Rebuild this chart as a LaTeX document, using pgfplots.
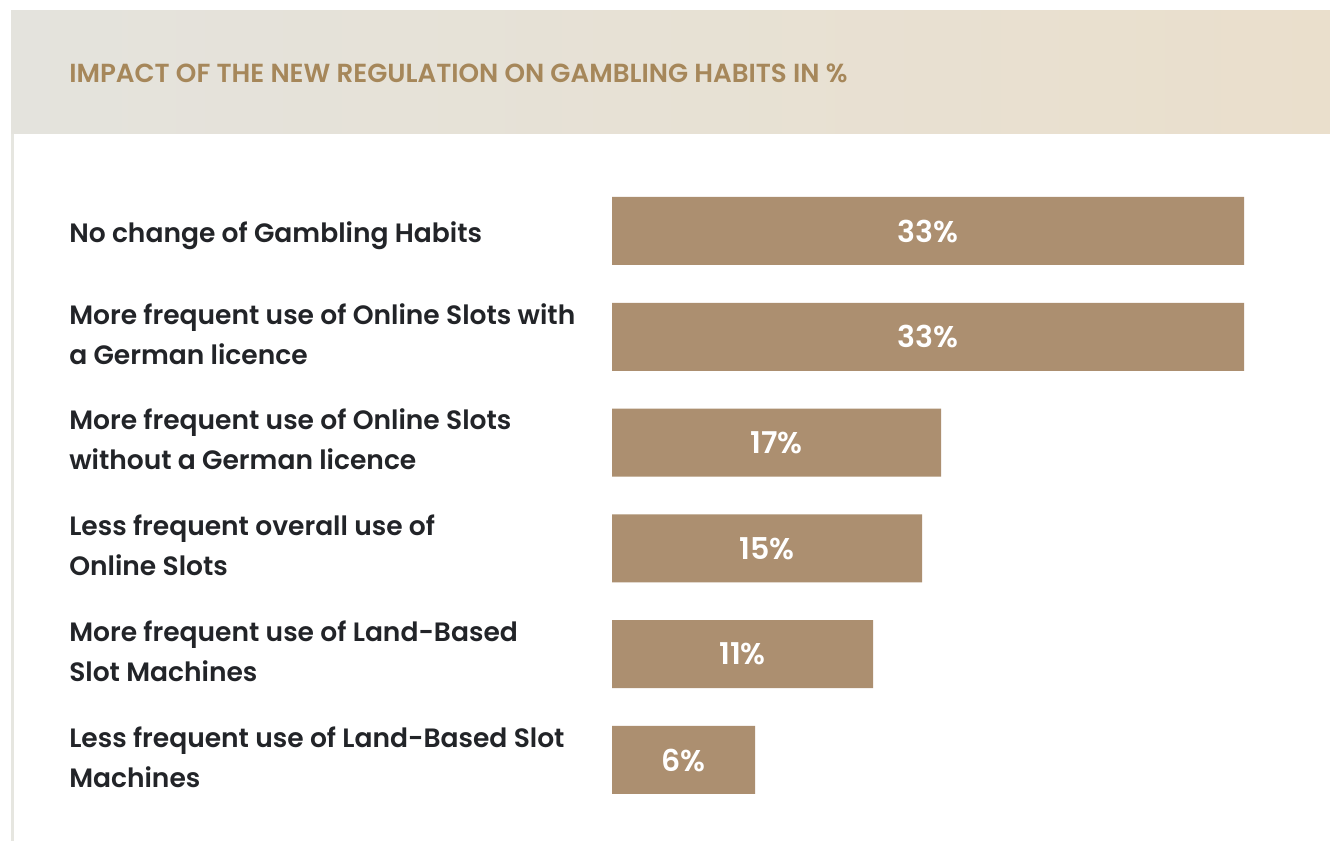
\documentclass[border=0pt]{standalone}
\usepackage{fontspec}
\setmainfont{Poppins}[BoldFont={Poppins SemiBold}]
\usepackage{pgfplots}
\usepackage{pgfplotstable}
\pgfplotsset{compat=1.18}
\definecolor{barc}{HTML}{AC8F70}
\definecolor{titlec}{HTML}{A6875A}
\definecolor{hdrL}{HTML}{E4E3DD}
\definecolor{hdrR}{HTML}{EADFCC}
\definecolor{bord}{HTML}{E6E6E0}
\definecolor{txt}{HTML}{222428}
\pgfplotstableread{
y len lab
5 33.00 33\%
4 33.00 33\%
3 17.18 17\%
2 16.19 15\%
1 13.63 11\%
0 7.47 6\%
}\data
\begin{document}
\begin{tikzpicture}
\begin{scope}[x=0.75pt,y=0.75pt]
\fill[white] (0,0) rectangle (1330,841);
\shade[left color=hdrL,right color=hdrR] (11,830) rectangle (1330,707);
\fill[bord] (11,707) rectangle (13.5,0);
\node[anchor=west,inner sep=0pt,text=titlec,font=\fontsize{19.6}{22}\selectfont\bfseries] at (69,768) {IMPACT OF THE NEW REGULATION ON GAMBLING HABITS IN \%};
\end{scope}
\begin{axis}[
  at={(459pt,21.075pt)}, anchor=south west,
  scale only axis, width=474pt, height=476.1pt,
  xmin=0, xmax=33, ymin=-0.5, ymax=5.5,
  axis line style={draw=none}, tick style={draw=none},
  xtick=\empty, ytick={0,1,2,3,4,5},
  yticklabels={{Less frequent use of Land-Based Slot\\Machines},
               {More frequent use of Land-Based\\Slot Machines},
               {Less frequent overall use of\\Online Slots},
               {More frequent use of Online Slots\\without a German licence},
               {More frequent use of Online Slots with\\a German licence},
               {\raisebox{-6pt}[\height][\depth]{No change of Gambling Habits}}},
  yticklabel style={anchor=west, align=left, inner sep=0pt, xshift=-407.25pt, yshift=2.25pt,
    font=\fontsize{19.9}{30}\selectfont\bfseries, text=txt},
  clip=false,
]
\addplot[xbar, bar width=51pt, fill=barc, draw=none] table[x=len,y=y] {\data};
\addplot[draw=none, mark=none, nodes near coords, point meta=explicit symbolic,
  every node near coord/.append style={anchor=center, text=white,
    font=\fontsize{22.5}{24}\selectfont\bfseries}]
  table[x expr=\thisrow{len}/2, y=y, meta=lab] {\data};
\end{axis}
\end{tikzpicture}
\end{document}
